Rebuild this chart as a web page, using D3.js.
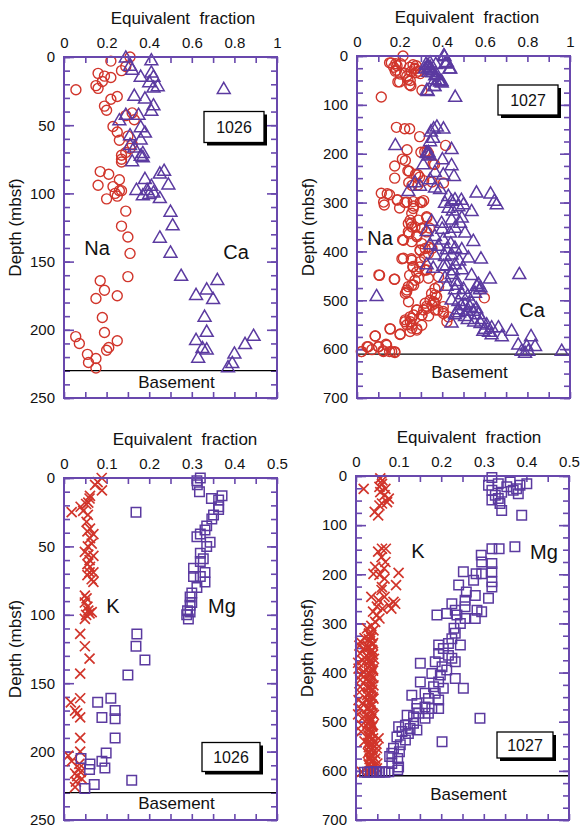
<!DOCTYPE html>
<html lang="en">
<head>
<meta charset="utf-8">
<title>Equivalent fraction vs depth, Sites 1026 and 1027</title>
<script src="https://cdn.jsdelivr.net/npm/d3@7"></script>
<style>
body { margin: 0; background: #fff; }
svg text { font-family: "Liberation Sans", Arial, Helvetica, sans-serif; fill: #111; }
</style>
</head>
<body>
<script>
// [equivalent fraction, depth (mbsf)]
var na1026 = [[0.31,0],[0.22,3],[0.29,7],[0.27,10],[0.16,12],[0.19,14],[0.22,15],[0.18,18],[0.15,21],[0.16,23],[0.056,24],[0.25,29],[0.22,31],[0.19,36],[0.20,39],[0.32,41],[0.29,43],[0.33,46],[0.23,51],[0.25,55],[0.30,58],[0.26,61],[0.32,64],[0.31,67],[0.29,70],[0.27,72],[0.27,75],[0.27,77],[0.17,84],[0.21,86],[0.26,90],[0.16,94],[0.23,95],[0.26,98],[0.27,98],[0.24,100],[0.25,102],[0.20,104],[0.29,113],[0.27,124],[0.30,132],[0.31,144],[0.30,161],[0.17,164],[0.19,171],[0.15,177],[0.25,175],[0.18,191],[0.19,202],[0.055,205],[0.072,210],[0.25,208],[0.21,213],[0.20,215],[0.11,218],[0.15,221],[0.115,224],[0.15,228]];

var ca1026 = [[0.29,1],[0.41,3],[0.31,7],[0.32,10],[0.41,12],[0.36,15],[0.42,15],[0.40,19],[0.42,23],[0.44,22],[0.75,24],[0.33,29],[0.38,31],[0.42,36],[0.41,40],[0.29,43],[0.35,43],[0.26,47],[0.36,52],[0.38,56],[0.31,58],[0.36,61],[0.31,65],[0.33,67],[0.37,71],[0.36,73],[0.37,74],[0.32,77],[0.47,84],[0.45,86],[0.38,90],[0.49,94],[0.41,95],[0.34,98],[0.39,98],[0.42,100],[0.40,101],[0.37,102],[0.45,104],[0.50,114],[0.51,124],[0.45,133],[0.50,144],[0.55,161],[0.72,164],[0.67,171],[0.62,175],[0.70,178],[0.66,191],[0.67,202],[0.89,205],[0.85,211],[0.62,208],[0.67,215],[0.65,214],[0.80,218],[0.63,221],[0.79,225],[0.77,228]];

var na1027 = [[0.216,0],[0.161,14],[0.188,20],[0.18,31],[0.203,37],[0.2,53],[0.25,50],[0.253,61],[0.234,41],[0.278,20],[0.289,31],[0.27,27],[0.297,36],[0.305,70],[0.114,84],[0.153,14],[0.182,16],[0.205,16],[0.172,23],[0.186,29],[0.263,18],[0.247,23],[0.271,25],[0.255,32],[0.278,34],[0.224,35],[0.192,53],[0.239,48],[0.247,59],
  [0.185,146],[0.224,149],[0.247,149],[0.294,165],[0.416,183],[0.235,192],[0.318,196],[0.329,195],[0.213,211],[0.177,225],[0.239,235],[0.177,250],[0.275,242],[0.357,221],[0.243,259],[0.114,281],[0.142,282],[0.189,295],[0.294,248],[0.286,264],[0.30,197],[0.336,200],[0.227,214],[0.364,222],[0.245,236],[0.286,243],[0.313,255],[0.258,265],[0.352,258],[0.406,260],[0.153,284],[0.125,299],[0.19,294],[0.234,299],[0.297,299],[0.313,296],[0.2,311],
  [0.266,307],[0.25,336],[0.255,343],[0.245,364],[0.328,331],[0.305,352],[0.34,352],[0.258,350],[0.214,376],[0.281,370],[0.336,391],[0.297,398],[0.317,411],[0.352,394],[0.211,415],[0.255,415],[0.294,432],[0.262,432],[0.32,438],[0.106,449],[0.177,457],[0.247,449],[0.289,455],[0.383,452],[0.383,472],[0.266,469],[0.234,479],[0.227,486],[0.242,503],[0.367,489],[0.359,503],[0.352,510],[0.328,512],[0.313,520],[0.281,520],[0.367,520],[0.336,532],[0.406,527],[0.305,530],[0.266,530],[0.227,540],[0.25,544],[0.234,550],[0.258,557],[0.281,561],[0.422,544],[0.203,569],[0.156,559],[0.086,573],[0.047,595],[0.02,605],[0.102,595],[0.136,590],[0.122,603],[0.153,605],[0.177,605],[0.07,601],[0.598,495],
  [0.128,305],[0.225,300],[0.264,298],[0.304,300],[0.264,312],[0.257,322],[0.327,329],[0.288,336],[0.241,343],[0.272,350],[0.241,360],[0.304,353],[0.327,360],[0.28,367],[0.218,377],[0.257,380],[0.304,384],[0.296,397],[0.32,394],[0.335,404],[0.218,414],[0.257,418],[0.296,421],[0.264,431],[0.28,442],[0.327,438],[0.335,455],[0.103,448],[0.175,457],[0.272,459],[0.241,472],[0.257,469],[0.233,483],[0.366,476],[0.35,486],[0.374,493],[0.343,500],[0.32,506],[0.327,517],[0.366,506],[0.405,513],[0.405,523],[0.38,520],[0.28,520],[0.304,530],[0.249,534],[0.225,544],[0.257,551],[0.28,558],[0.249,564],[0.202,570],[0.155,558],[0.304,551],[0.257,537],[0.43,534],[0.085,573],[0.053,595],[0.022,605],[0.1,595],[0.139,592],[0.124,605],[0.163,605],[0.178,607]];

var ca1027 = [[0.411,2],[0.422,14],[0.438,27],[0.414,17],[0.333,20],[0.344,24],[0.32,27],[0.352,31],[0.336,34],[0.367,41],[0.383,51],[0.398,56],[0.364,63],[0.328,71],[0.461,85],[0.408,0],[0.42,16],[0.434,27],[0.37,18],[0.343,15],[0.335,25],[0.354,35],[0.366,49],[0.39,54],[0.362,63],[0.332,73],[0.324,18],[0.343,29],[0.374,39],[0.397,53],
  [0.36,150],[0.375,146],[0.406,150],[0.347,156],[0.358,169],[0.343,176],[0.18,184],[0.327,199],[0.335,205],[0.33,200],[0.335,198],[0.34,203],[0.444,192],[0.401,213],[0.311,223],[0.444,225],[0.366,239],[0.405,244],[0.455,247],[0.272,260],[0.343,254],[0.296,267],[0.366,271],[0.241,278],[0.39,274],[0.429,288],[0.46,295],[0.49,296],[0.561,281],[0.627,283],[0.645,298],
  [0.413,302],[0.444,298],[0.476,309],[0.5,305],[0.538,319],[0.656,305],[0.35,339],[0.397,343],[0.444,336],[0.484,343],[0.492,332],[0.327,360],[0.366,370],[0.405,377],[0.437,363],[0.46,353],[0.507,363],[0.546,380],[0.343,387],[0.382,390],[0.421,397],[0.46,394],[0.492,397],[0.366,408],[0.413,411],[0.444,408],[0.523,414],[0.582,416],[0.327,428],[0.358,435],[0.405,431],[0.46,428],[0.492,438],[0.538,450],[0.624,457],[0.762,448],[0.413,455],[0.444,448],[0.468,462],[0.421,472],[0.46,479],[0.492,489],[0.562,472],[0.577,479],[0.554,486],[0.092,493],[0.444,500],[0.476,503],[0.507,510],[0.538,506],[0.476,520],[0.515,523],[0.546,523],[0.46,530],[0.507,534],[0.57,530],[0.585,540],[0.444,547],[0.609,551],[0.632,557],[0.593,564],[0.664,557],[0.632,571],[0.68,575],[0.726,564],[0.817,575],[0.757,592],[0.797,595],[0.836,595],[0.773,605],[0.804,605],[0.961,605],[0.789,609],
  [0.47,470],[0.5,478],[0.52,492],[0.49,512],[0.53,515],[0.56,518],[0.48,526],[0.52,540],[0.55,545],[0.58,548],[0.6,560],[0.62,566],[0.57,468],[0.58,475],[0.45,440],[0.42,430],[0.48,420],[0.44,385],[0.4,355],[0.45,318],[0.43,312]];

var k1026 = [[0.0885,0],[0.079,3],[0.073,5],[0.089,9],[0.061,13],[0.06,15],[0.057,18],[0.052,19],[0.039,21],[0.018,25],[0.045,24],[0.056,27],[0.053,32],[0.061,37],[0.055,39],[0.069,41],[0.061,44],[0.065,48],[0.056,50],[0.049,54],[0.057,56],[0.069,57],[0.06,60],[0.055,63],[0.061,65],[0.06,69],[0.069,69],[0.055,71],[0.065,74],[0.069,76],[0.049,86],[0.053,88],[0.049,91],[0.055,94],[0.057,97],[0.065,98],[0.06,99],[0.052,100],[0.049,103],[0.038,114],[0.049,123],[0.06,132],[0.038,143],[0.038,161],[0.016,164],[0.026,170],[0.031,172],[0.038,175],[0.038,190],[0.038,200],[0.01,203],[0.018,207],[0.036,209],[0.036,212],[0.039,215],[0.026,216],[0.031,218],[0.028,222],[0.042,220],[0.026,226]];

var mg1026 = [[0.32,0],[0.312,2],[0.313,5],[0.318,10],[0.371,13],[0.346,15],[0.363,16],[0.363,21],[0.363,23],[0.351,27],[0.347,30],[0.335,35],[0.331,38],[0.32,41],[0.312,43],[0.343,47],[0.335,50],[0.32,55],[0.327,59],[0.32,61],[0.304,66],[0.331,69],[0.304,72],[0.32,72],[0.331,76],[0.312,80],[0.3,84],[0.296,87],[0.3,91],[0.296,93],[0.29,97],[0.296,98],[0.288,100],[0.292,103],[0.171,114],[0.169,123],[0.19,133],[0.15,144],[0.169,25],[0.11,161],[0.079,164],[0.12,170],[0.12,176],[0.089,175],[0.12,190],[0.099,201],[0.089,207],[0.096,212],[0.061,209],[0.04,205],[0.06,213],[0.159,221],[0.071,224],[0.049,227]];

var k1027 = [[0.057,5],[0.061,16],[0.055,22],[0.069,26],[0.057,33],[0.067,39],[0.077,46],[0.073,53],[0.061,56],[0.055,60],[0.044,73],[0.052,80],[0.018,26],[0.062,9],
  [0.061,148],[0.07,148],[0.052,154],[0.06,165],[0.069,175],[0.045,185],[0.066,188],[0.1,197],[0.041,199],[0.055,201],[0.067,209],[0.094,222],[0.061,226],[0.06,232],[0.036,246],[0.067,246],[0.053,253],[0.088,256],[0.077,263],[0.092,260],[0.083,270],[0.049,266],[0.062,270],[0.04,276],[0.049,283],[0.055,290],[0.045,297],[0.036,305],[0.026,310],[0.041,314],[0.031,320],
  [0.01,337],[0.018,351],[0.01,361],[0.006,392],[0.018,398],[0.01,415],[0.01,429],[0.006,456],[0.01,473],[0.018,490],[0.013,507],[0.026,446],[0.026,473],[0.049,554],[0.053,534],[0.045,575],[0.049,595],[0.014,602],[0.03,602],[0.0375,602],
  [0.035,325],[0.03,332],[0.04,340],[0.028,347],[0.038,354],[0.033,360],[0.025,366],[0.042,372],[0.03,378],[0.036,384],[0.027,390],[0.04,396],[0.032,402],[0.037,408],[0.024,414],[0.034,420],[0.041,426],[0.029,432],[0.036,438],[0.031,444],[0.039,450],[0.026,456],[0.033,462],[0.037,468],[0.028,474],[0.035,480],[0.042,486],[0.03,492],[0.034,498],[0.027,504],[0.038,510],[0.032,516],[0.036,522],[0.029,528],[0.04,534],[0.033,540],[0.037,546],[0.03,552],[0.035,558],[0.028,564],[0.039,570],[0.032,576],[0.036,582],[0.03,588],[0.034,594],[0.038,598],
  [0.03,322],[0.036,329],[0.033,336],[0.038,343],[0.031,349],[0.035,356],[0.04,363],[0.029,369],[0.034,375],[0.037,381],[0.032,387],[0.039,393],[0.03,399],[0.035,405],[0.04,411],[0.031,417],[0.036,423],[0.033,429],[0.038,435],[0.03,441],[0.035,447],[0.041,453],[0.032,459],[0.037,465],[0.029,471],[0.034,477],[0.039,483],[0.031,489],[0.036,495],[0.033,501],[0.04,507],[0.03,513],[0.035,519],[0.038,525],[0.032,531],[0.036,537],[0.029,543],[0.034,549],[0.039,555],[0.031,561],[0.036,567],[0.033,573],[0.038,579],[0.03,585],[0.035,591],[0.04,596],
  [0.005,380],[0.012,405],[0.008,440],[0.015,462],[0.005,485],[0.012,520],[0.02,540],[0.015,375],[0.008,345],[0.02,330],[0.045,565],[0.05,585],[0.048,545]];

var mg1027 = [[0.319,3],[0.311,19],[0.334,16],[0.362,12],[0.385,19],[0.401,16],[0.377,26],[0.354,22],[0.319,29],[0.327,39],[0.319,49],[0.334,46],[0.338,56],[0.342,70],[0.389,80],[0.381,36],[0.342,33],[0.369,29],
  [0.319,148],[0.336,148],[0.373,144],[0.294,161],[0.295,175],[0.319,178],[0.295,199],[0.252,195],[0.282,199],[0.319,195],[0.319,215],[0.319,226],[0.276,212],[0.241,222],[0.259,236],[0.311,249],[0.28,243],[0.256,253],[0.225,260],[0.233,273],[0.284,273],[0.295,276],[0.256,266],[0.19,283],[0.213,280],[0.237,283],[0.28,290],[0.256,290],[0.245,300],[0.23,310],[0.233,320],[0.225,331],[0.217,341],[0.245,344],[0.194,344],[0.205,351],[0.194,361],[0.217,365],[0.233,378],[0.225,371],[0.186,378],[0.151,381],[0.202,388],[0.213,395],[0.198,405],[0.178,402],[0.233,412],[0.151,419],[0.194,419],[0.182,429],[0.205,432],[0.252,432],[0.162,442],[0.186,442],[0.131,446],[0.17,453],[0.194,456],[0.143,463],[0.162,470],[0.178,473],[0.143,473],[0.194,473],[0.17,483],[0.147,483],[0.12,487],[0.135,490],[0.162,493],[0.291,493],[0.135,503],[0.116,507],[0.127,514],[0.143,517],[0.1,510],[0.108,520],[0.123,524],[0.096,531],[0.116,537],[0.104,547],[0.202,541],[0.088,554],[0.102,561],[0.084,564],[0.079,571],[0.098,575],[0.084,585],[0.1,592],[0.098,598],[0.077,602],[0.061,602],[0.049,602],[0.034,602],
  [0.02,603],[0.027,603],[0.041,603],[0.055,603],[0.068,603]];

var fracTicks10 = [0, 0.2, 0.4, 0.6, 0.8, 1];
var fracTicks05 = [0, 0.1, 0.2, 0.3, 0.4, 0.5];
var depthTicks250 = [0, 50, 100, 150, 200, 250];
var depthTicks700 = [0, 100, 200, 300, 400, 500, 600, 700];

var red = "#d1352b";
var purple = "#5b3aa0";
var frameColor = "#6948ad";

var svg = d3.select("body").append("svg")
    .attr("width", 584)
    .attr("height", 830);

var panels = [
  {left: 64, top: 57, width: 213, height: 341, xMax: 1, xStep: 0.1, xLabels: fracTicks10,
   yMax: 250, yStep: 10, yLabels: depthTicks250, basement: 230, basementY: 388, titleX: 183,
   series: [{data: na1026, mark: "circle", color: red}, {data: ca1026, mark: "triangle", color: purple}],
   names: [{t: "Na", x: 97, y: 255}, {t: "Ca", x: 236, y: 259}],
   box: {cx: 234, cy: 127, w: 60, h: 31, t: "1026"}},
  {left: 357, top: 56, width: 213, height: 342, xMax: 1, xStep: 0.1, xLabels: fracTicks10,
   yMax: 700, yStep: 25, yLabels: depthTicks700, basement: 610, basementY: 378, titleX: 467,
   series: [{data: na1027, mark: "circle", color: red}, {data: ca1027, mark: "triangle", color: purple}],
   names: [{t: "Na", x: 380, y: 245}, {t: "Ca", x: 532, y: 317}],
   box: {cx: 528, cy: 100, w: 60, h: 30, t: "1027"}},
  {left: 64, top: 478, width: 213, height: 342, xMax: 0.5, xStep: 0.05, xLabels: fracTicks05,
   yMax: 250, yStep: 10, yLabels: depthTicks250, basement: 230, basementY: 809, titleX: 185,
   series: [{data: k1026, mark: "cross", color: red}, {data: mg1026, mark: "square", color: purple}],
   names: [{t: "K", x: 113, y: 613}, {t: "Mg", x: 222, y: 613}],
   box: {cx: 231, cy: 757, w: 58, h: 29, t: "1026"}},
  {left: 356, top: 476, width: 213, height: 344, xMax: 0.5, xStep: 0.05, xLabels: fracTicks05,
   yMax: 700, yStep: 25, yLabels: depthTicks700, basement: 610, basementY: 800, titleX: 469,
   series: [{data: k1027, mark: "cross", color: red}, {data: mg1027, mark: "square", color: purple}],
   names: [{t: "K", x: 418, y: 558}, {t: "Mg", x: 544, y: 559}],
   box: {cx: 525, cy: 745, w: 56, h: 26, t: "1027"}}
];

panels.forEach(drawPanel);

function drawPanel(p) {
  var x = d3.scaleLinear().domain([0, p.xMax]).range([p.left, p.left + p.width]);
  var y = d3.scaleLinear().domain([0, p.yMax]).range([p.top, p.top + p.height]);
  var g = svg.append("g");

  var xMinor = d3.range(0, p.xMax + p.xStep / 2, p.xStep);
  var yMinor = d3.range(0, p.yMax + p.yStep / 2, p.yStep);
  var fmt = d3.format("~g");
  var isLabel = function(v) {
    return p.xLabels.some(function(l) { return Math.abs(l - v) < 1e-6; });
  };

  // ticks, all pointing inwards
  var top = g.append("g").attr("transform", "translate(0," + p.top + ")")
    .call(d3.axisTop(x).tickValues(xMinor).tickSize(-6).tickPadding(9)
      .tickFormat(function(v) { return isLabel(v) ? fmt(v) : ""; }));
  var bottom = g.append("g").attr("transform", "translate(0," + (p.top + p.height) + ")")
    .call(d3.axisBottom(x).tickValues(xMinor).tickSize(-6).tickFormat(""));
  var leftMinor = g.append("g").attr("transform", "translate(" + p.left + ",0)")
    .call(d3.axisLeft(y).tickValues(yMinor).tickSize(-6).tickFormat(""));
  var leftMajor = g.append("g").attr("transform", "translate(" + p.left + ",0)")
    .call(d3.axisLeft(y).tickValues(p.yLabels).tickSize(-10).tickPadding(9).tickFormat(d3.format("d")));
  var rightMinor = g.append("g").attr("transform", "translate(" + (p.left + p.width) + ",0)")
    .call(d3.axisRight(y).tickValues(yMinor).tickSize(-6).tickFormat(""));
  var rightMajor = g.append("g").attr("transform", "translate(" + (p.left + p.width) + ",0)")
    .call(d3.axisRight(y).tickValues(p.yLabels).tickSize(-10).tickFormat(""));

  [top, bottom, leftMinor, leftMajor, rightMinor, rightMajor].forEach(function(a) {
    a.select(".domain").remove();
    a.selectAll(".tick line").attr("stroke", frameColor).attr("stroke-width", 1.6);
    a.selectAll(".tick text").attr("font-size", 15).attr("fill", "#111")
      .attr("font-family", "'Liberation Sans', Arial, sans-serif");
  });

  // basement contact
  g.append("line")
    .attr("x1", p.left).attr("x2", p.left + p.width)
    .attr("y1", y(p.basement)).attr("y2", y(p.basement))
    .attr("stroke", "#000").attr("stroke-width", 1.3);

  g.append("text")
    .attr("x", x(p.xMax / 2) + 6).attr("y", p.basementY)
    .attr("text-anchor", "middle").attr("font-size", 17)
    .text("Basement");

  // data marks
  p.series.forEach(function(s) {
    var m = g.append("g").attr("fill", "none").attr("stroke", s.color).attr("stroke-width", 1.4);
    if (s.mark === "circle") {
      m.selectAll("circle").data(s.data).enter().append("circle")
        .attr("cx", function(d) { return x(d[0]); })
        .attr("cy", function(d) { return y(d[1]); })
        .attr("r", 5);
    } else {
      var shape;
      if (s.mark === "triangle") shape = d3.symbol().type(d3.symbolTriangle).size(72)();
      else if (s.mark === "square") shape = d3.symbol().type(d3.symbolSquare).size(90)();
      else shape = "M-5,-5L5,5M-5,5L5,-5";
      m.selectAll("path").data(s.data).enter().append("path")
        .attr("d", shape)
        .attr("stroke-width", s.mark === "cross" ? 1.7 : 1.5)
        .attr("transform", function(d) { return "translate(" + x(d[0]) + "," + y(d[1]) + ")"; });
    }
  });

  // frame
  g.append("rect")
    .attr("x", p.left).attr("y", p.top)
    .attr("width", p.width).attr("height", p.height)
    .attr("fill", "none").attr("stroke", frameColor).attr("stroke-width", 2);

  // element names
  p.names.forEach(function(n) {
    g.append("text").attr("x", n.x).attr("y", n.y)
      .attr("text-anchor", "middle").attr("font-size", 20).text(n.t);
  });

  // site box with drop shadow
  var b = p.box;
  g.append("rect").attr("x", b.cx - b.w / 2 + 3).attr("y", b.cy - b.h / 2 + 3)
    .attr("width", b.w).attr("height", b.h).attr("fill", "#000");
  g.append("rect").attr("x", b.cx - b.w / 2).attr("y", b.cy - b.h / 2)
    .attr("width", b.w).attr("height", b.h)
    .attr("fill", "#fff").attr("stroke", "#000").attr("stroke-width", 1.3);
  g.append("text").attr("x", b.cx).attr("y", b.cy + 6)
    .attr("text-anchor", "middle").attr("font-size", 16).text(b.t);

  // axis titles
  g.append("text").attr("x", p.titleX).attr("y", p.top - 33)
    .attr("text-anchor", "middle").attr("font-size", 17)
    .text("Equivalent  fraction").style("white-space", "pre");
  g.append("text")
    .attr("transform", "translate(" + (p.left - 43) + "," + (p.top + p.height / 2) + ") rotate(-90)")
    .attr("text-anchor", "middle").attr("font-size", 17)
    .text("Depth (mbsf)");
}
</script>
</body>
</html>
